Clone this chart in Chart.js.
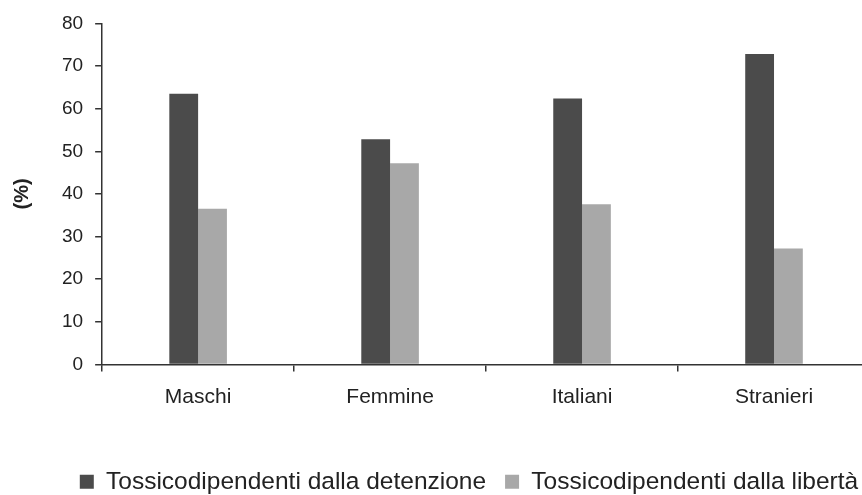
<!DOCTYPE html>
<html>
<head>
<meta charset="utf-8">
<script src="https://cdn.jsdelivr.net/npm/chart.js@4/dist/chart.umd.min.js"></script>
<style>
html,body{margin:0;padding:0;overflow:hidden;background:#fff;width:862px;height:495px;}
#wrap{position:absolute;left:0;top:0;width:930px;height:504px;}
</style>
</head>
<body>
<div id="wrap"><canvas id="c" width="930" height="504"></canvas></div>
<script>
const categories = ["Maschi", "Femmine", "Italiani", "Stranieri"];
const seriesNames = ["Tossicodipendenti dalla detenzione", "Tossicodipendenti dalla libertà"];
const detenzione = [63.5, 52.8, 62.4, 72.8];
const liberta = [36.5, 47.2, 37.6, 27.2];
const yTicks = [0, 10, 20, 30, 40, 50, 60, 70, 80];

const FONT = "'Liberation Sans', Arial, sans-serif";
new Chart(document.getElementById('c'), {
  type: 'bar',
  data: {
    labels: categories,
    datasets: [
      {label: seriesNames[0], data: detenzione, backgroundColor: '#4b4b4b', borderWidth: 0, categoryPercentage: 0.3, barPercentage: 1.0},
      {label: seriesNames[1], data: liberta, backgroundColor: '#a8a8a8', borderWidth: 0, categoryPercentage: 0.3, barPercentage: 1.0}
    ]
  },
  options: {
    responsive: false,
    animation: false,
    layout: {padding: {top: 19, right: 0, left: 8, bottom: 0}},
    plugins: {
      tooltip: {enabled: false},
      legend: {
        position: 'bottom',
        labels: {
          font: {family: FONT, size: 24.5},
          color: '#222',
          boxWidth: 14,
          boxHeight: 14,
          padding: 19
        }
      }
    },
    scales: {
      x: {
        offset: true,
        grid: {display: true, drawOnChartArea: false, drawTicks: true, tickLength: 7, color: '#333', lineWidth: 1.5, offset: true},
        border: {display: true, color: '#333', width: 1.5},
        ticks: {font: {family: FONT, size: 21}, color: '#222', padding: 13, maxRotation: 0},
        afterFit: (scale) => { scale.height = 86; }
      },
      y: {
        min: 0, max: 80,
        afterBuildTicks: (scale) => { scale.ticks = yTicks.map(v => ({value: v})); },
        grid: {display: true, drawOnChartArea: false, drawTicks: true, tickLength: 7, color: '#333', lineWidth: 1.5},
        border: {display: true, color: '#333', width: 1.5},
        ticks: {font: {family: FONT, size: 19}, color: '#222', padding: 12},
        title: {display: true, text: '(%)', font: {family: FONT, size: 20, weight: 'bold'}, color: '#222', padding: {top: 2, bottom: 16}}
      },
      yPad: {
        position: 'right',
        min: 0, max: 80,
        grid: {display: false},
        border: {display: false},
        ticks: {display: false},
        afterFit: (scale) => { scale.width = 60; }
      }
    }
  }
});
</script>
</body>
</html>
